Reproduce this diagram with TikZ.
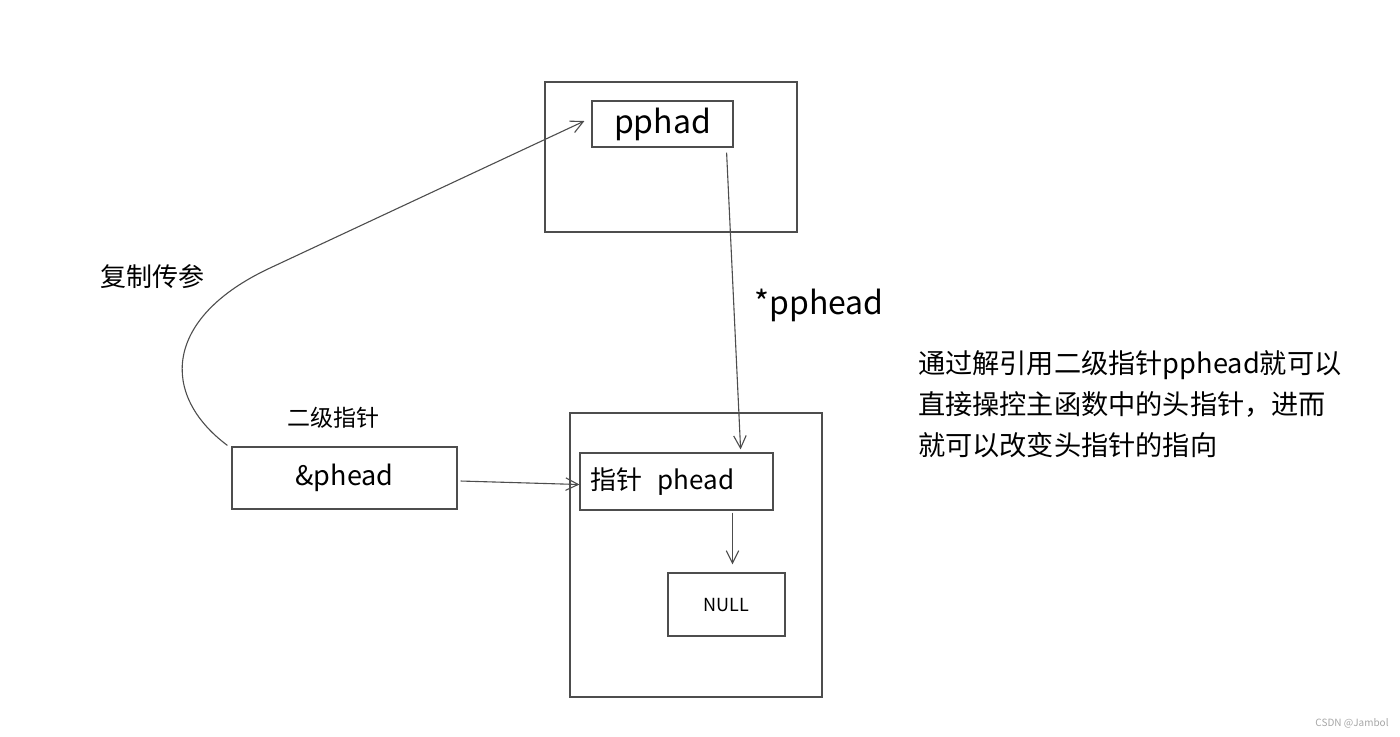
\documentclass[tikz,border=0pt]{standalone}
\usepackage{fontspec}
\setmainfont{Noto Sans CJK SC}
\usetikzlibrary{arrows.meta,calc}
\definecolor{pen}{HTML}{4D4D4D}

\begin{document}
\begin{tikzpicture}[
    x=0.5pt, y=-0.5pt,
    frame/.style={draw=pen, line width=0.6pt, inner sep=0pt},
    box/.style={draw=pen, line width=0.6pt, font=\fontsize{13pt}{15pt}\selectfont},
    arrow/.style={-{Straight Barb[length=2.2mm, width=2.2mm]}, draw=pen, line width=0.55pt},
    note/.style={font=\fontsize{13pt}{15pt}\selectfont, text=black},
]
\useasboundingbox (0,0) rectangle (1400,736);

% ================== Callee frame ==================
\node[frame, minimum width=126pt, minimum height=75pt] (topFrame) at (671,157) {};
\node[box, minimum width=70.5pt, minimum height=21pt, font=\fontsize{16pt}{18pt}\selectfont] (pphad) at (662.5,124) {pphad};

% ================== Main frame ==================
\node[frame, minimum width=126pt, minimum height=142pt] (mainFrame) at (696,555) {};
\node[box, minimum width=96.5pt, minimum height=28.5pt, text width=86.5pt, inner xsep=5pt, align=left] (phead) at (676.5,481.5) {指针\hspace{0.6em}phead};
\node[box, minimum width=58.5pt, minimum height=31.5pt, font=\fontsize{9pt}{11pt}\selectfont] (null) at (726.5,604.5) {NULL};

% ================== Argument ==================
\node[box, minimum width=112.5pt, minimum height=31pt, font=\fontsize{13.5pt}{15pt}\selectfont] (ref) at (344.5,478) {\&phead};
\node[note, font=\fontsize{11.5pt}{13pt}\selectfont] (refTitle) at (333,418) {二级指针};

\draw[arrow] ([xshift=1.5pt,yshift=-1.5pt]ref.east) -- ([yshift=-1.5pt]phead.west);
\draw[arrow] ([xshift=3pt,yshift=-1pt]phead.south -| null.north) -- ([xshift=3pt,yshift=4pt]null.north);

% Copy into the callee
\draw[arrow] ([xshift=-2pt,yshift=0.5pt]ref.north west) .. controls (160,395) and (163,318) .. (270,268) -- ([xshift=-3.5pt,yshift=1.5pt]pphad.west);
\node[note] (copyLabel) at (152,277) {复制传参};

% Dereference
\draw[arrow] ([xshift=-3.5pt,yshift=-2.5pt]pphad.south east) -- ([xshift=-16.5pt,yshift=1.5pt]phead.north east);
\node[note, font=\fontsize{16pt}{18pt}\selectfont] (derefLabel) at (819,305) {*pphead};

% ================== Explanation ==================
\node[note, anchor=west, align=left, font=\fontsize{13.6pt}{20.5pt}\selectfont] (explain) at (911,404) {通过解引用二级指针pphead就可以\\直接操控主函数中的头指针，进而\\就可以改变头指针的指向};

\node[font=\fontsize{5pt}{6pt}\selectfont, text=gray!70] (mark) at (1352,723) {CSDN @Jambol};
\end{tikzpicture}
\end{document}
